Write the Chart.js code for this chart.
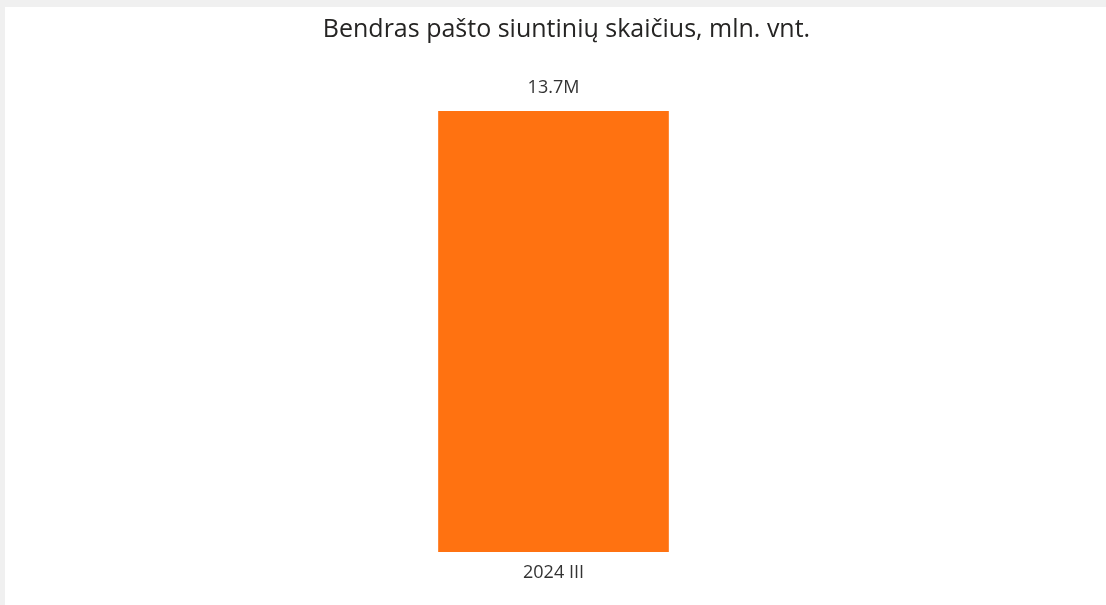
<!DOCTYPE html>
<html>
<head>
<meta charset="utf-8">
<script src="https://cdn.jsdelivr.net/npm/chart.js@4"></script>
<style>
  html, body { margin: 0; padding: 0; background: #f0f0f0; }
  #wrap { position: absolute; left: 5px; top: 7px; width: 1101px; height: 598px; background: #ffffff; }
</style>
</head>
<body>
<div id="wrap"><canvas id="myChart"></canvas></div>
<script>
// chart data
var chartTitle = 'Bendras pašto siuntinių skaičius, mln. vnt.';
var categories = ["2024 III"];
var parcels = [13.7];
var valueLabels = ["13.7M"];

// title (slightly right of centre like the original) + value above each bar
var topLabels = {
  id: 'topLabels',
  afterDraw: function (chart) {
    var ctx = chart.ctx;
    var meta = chart.getDatasetMeta(0);
    ctx.save();
    ctx.textAlign = 'center';
    ctx.textBaseline = 'middle';

    ctx.font = '25px "Open Sans"';
    ctx.fillStyle = '#252423';
    ctx.fillText(chartTitle, chart.width / 2 + 11, 23);

    ctx.font = '18px "Open Sans"';
    ctx.fillStyle = '#333333';
    meta.data.forEach(function (bar, i) {
      ctx.fillText(valueLabels[i], bar.x, bar.y - 23);
    });
    ctx.restore();
  }
};

new Chart(document.getElementById("myChart"), {
  type: 'bar',
  data: {
    labels: categories,
    datasets: [{
      label: "Siuntiniai",
      backgroundColor: "#ff7211",
      data: parcels,
      barThickness: 230
    }]
  },
  options: {
    responsive: true,
    maintainAspectRatio: false,
    animation: false,
    layout: { padding: { top: 104, bottom: 0, left: 0, right: 4 } },
    plugins: {
      legend: { display: false },
      tooltip: { enabled: false },
      title: { display: false }
    },
    scales: {
      x: {
        grid: { display: false, drawTicks: false },
        border: { display: false },
        ticks: { color: '#333333', font: { family: 'Open Sans', size: 18 }, padding: 10 },
        afterFit: function (axis) { axis.height = 53; }
      },
      y: {
        display: false,
        min: 0,
        max: 13.7
      }
    }
  },
  plugins: [topLabels]
});
</script>
</body>
</html>
